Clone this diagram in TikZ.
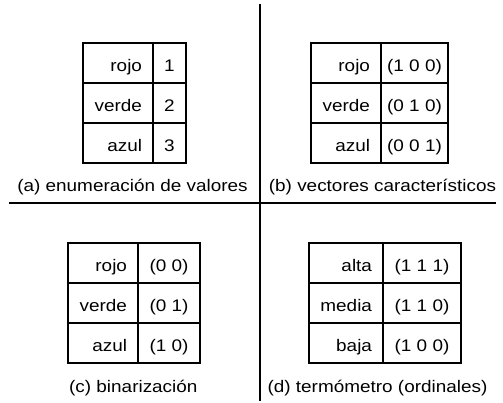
\documentclass[tikz,border=0pt]{standalone}
\usepackage{fontspec}
\setmainfont[FakeStretch=1.13]{Liberation Sans}
\usepackage{tikz}
\usetikzlibrary{positioning}
\tikzstyle{cell} = [rectangle, draw=black, line width=1pt, outer sep=0pt, minimum height=1.2cm, inner xsep=0.33cm, inner ysep=0pt, text height=0.5cm, text depth=0.02cm]
\tikzstyle{key} = [cell, align=right, text width=1.44cm]
\tikzstyle{code} = [cell, inner xsep=0.1cm, text centered]
\tikzstyle{caption} = [anchor=base, inner sep=0pt]
\tikzstyle{rule} = [line width=1.3pt]

\begin{document}
\begin{tikzpicture}[
  every node/.style={font=\fontsize{14.3}{17}\selectfont}
]
\useasboundingbox (0,0) rectangle (15.09,-12.09);

% (a)
\node (a1) [key] at (3.54,-1.89) {rojo};
\node (a2) [key] at (3.54,-3.09) {verde};
\node (a3) [key] at (3.54,-4.29) {azul};
\node (a1c) [code, minimum width=0.99cm] at (5.085,-1.89) {1};
\node (a2c) [code, minimum width=0.99cm] at (5.085,-3.09) {2};
\node (a3c) [code, minimum width=0.99cm] at (5.085,-4.29) {3};
\node (acap) [caption] at (3.975,-5.73) {(a) enumeración de valores};

% (b)
\node (b1) [key] at (10.38,-1.89) {rojo};
\node (b2) [key] at (10.38,-3.09) {verde};
\node (b3) [key] at (10.38,-4.29) {azul};
\node (b1c) [code, minimum width=2.01cm] at (12.435,-1.89) {(1 0 0)};
\node (b2c) [code, minimum width=2.01cm] at (12.435,-3.09) {(0 1 0)};
\node (b3c) [code, minimum width=2.01cm] at (12.435,-4.29) {(0 0 1)};
\node (bcap) [caption] at (11.475,-5.73) {(b) vectores característicos};

% (c)
\node (c1) [key] at (3.09,-7.89) {rojo};
\node (c2) [key] at (3.09,-9.09) {verde};
\node (c3) [key] at (3.09,-10.29) {azul};
\node (c1c) [code, minimum width=1.86cm] at (5.07,-7.89) {(0 0)};
\node (c2c) [code, minimum width=1.86cm] at (5.07,-9.09) {(0 1)};
\node (c3c) [code, minimum width=1.86cm] at (5.07,-10.29) {(1 0)};
\node (ccap) [caption] at (4.0,-11.76) {(c) binarización};

% (d)
\node (d1) [key, text width=1.56cm] at (10.38,-7.89) {alta};
\node (d2) [key, text width=1.56cm] at (10.38,-9.09) {media};
\node (d3) [key, text width=1.56cm] at (10.38,-10.29) {baja};
\node (d1c) [code, minimum width=2.34cm] at (12.66,-7.89) {(1 1 1)};
\node (d2c) [code, minimum width=2.34cm] at (12.66,-9.09) {(1 1 0)};
\node (d3c) [code, minimum width=2.34cm] at (12.66,-10.29) {(1 0 0)};
\node (dcap) [caption] at (11.325,-11.76) {(d) termómetro (ordinales)};

% separators
\coordinate (hl) at (0.27,-6.09);
\coordinate (hr) at (14.88,-6.09);
\coordinate (vt) at (7.8,-0.12);
\coordinate (vb) at (7.8,-12.03);
\draw [rule] (hl) -- (hr);
\draw [rule] (vt) -- (vb);

\end{tikzpicture}
\end{document}
